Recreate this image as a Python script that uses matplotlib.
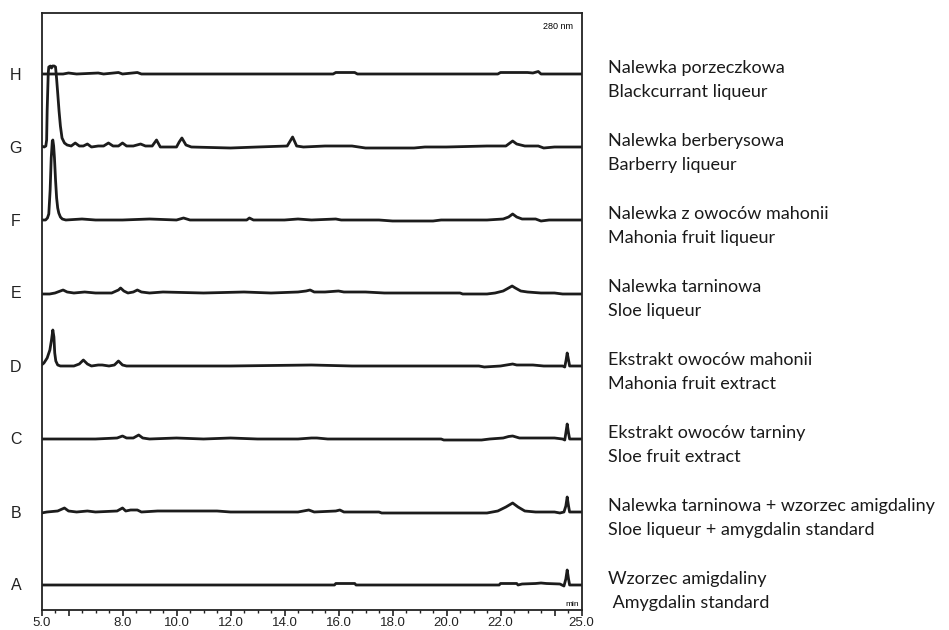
import numpy as np
import matplotlib.pyplot as plt
from matplotlib.ticker import FixedLocator, MultipleLocator

# chromatogram traces: (retention time [min], signal [a.u.])
trace_H = [(5.0, 0), (5.8, 0), (6.0, 1), (6.3, 0), (7.1, 1), (7.3, 0), (7.85, 1.5), (8.0, 0),
           (8.55, 1.5), (8.7, 0), (15.8, 0), (15.9, 1.5), (16.6, 1.5), (16.7, 0), (21.9, 0),
           (22.0, 1.5), (23.0, 1.5), (23.2, 1), (23.4, 2.5), (23.5, 0), (25.0, 0)]
trace_G = [(5.0, 1), (5.1, 0), (5.16, 1), (5.19, 7), (5.21, 37), (5.25, 74), (5.27, 80),
           (5.33, 81), (5.37, 79), (5.41, 81), (5.47, 81), (5.52, 80), (5.56, 68), (5.60, 54),
           (5.65, 36), (5.70, 21), (5.76, 9), (5.85, 4), (5.95, 2), (6.1, 1), (6.25, 4),
           (6.4, 1), (6.55, 1), (6.7, 3), (6.85, 0), (7.1, 1), (7.3, 1), (7.48, 4), (7.65, 1),
           (7.85, 1), (8.0, 4), (8.15, 1), (8.4, 1), (8.67, 3), (8.85, 1), (9.1, 1), (9.26, 7),
           (9.4, 0), (10.0, 0), (10.1, 5), (10.2, 9), (10.35, 2), (10.55, 0), (12.0, -1),
           (13.0, 0), (14.1, 1), (14.3, 10), (14.45, 1), (14.7, 0), (15.5, 1), (16.5, 1),
           (17.0, -1), (18.8, -1), (19.2, 0), (20.0, 0), (21.5, 1), (22.2, 1), (22.45, 6),
           (22.6, 3), (22.9, 1), (23.4, 1), (23.6, -1), (24.0, 0), (25.0, 0)]
trace_F = [(5.0, 0), (5.15, 0), (5.22, 2), (5.27, 6), (5.32, 30), (5.36, 62), (5.40, 79),
           (5.42, 80), (5.45, 74), (5.48, 62), (5.52, 40), (5.56, 22), (5.60, 12), (5.64, 7),
           (5.70, 3), (5.77, 1), (5.9, 0), (6.5, 1), (7.0, 0), (8.0, 0), (9.0, 1), (10.0, 0),
           (10.26, 2), (10.5, 0), (12.6, 0), (12.7, 2), (12.85, 0), (14.0, 0), (14.5, 1),
           (15.0, 0), (15.9, 1), (16.1, 0), (17.5, 0), (18.0, -1), (19.5, -1), (19.8, 0),
           (21.5, 0), (22.1, 1), (22.3, 3), (22.45, 6), (22.6, 3), (22.8, 1), (23.3, 1),
           (23.5, -1), (23.8, 0), (25.0, 0)]
trace_E = [(5.0, -1), (5.3, -1), (5.5, 0), (5.7, 2), (5.8, 3), (5.95, 1), (6.2, 0), (6.6, 1),
           (7.0, 0), (7.6, 0), (7.85, 3), (7.93, 5), (8.05, 2), (8.2, 0), (8.4, 1), (8.55, 3),
           (8.7, 1), (9.0, 0), (9.5, 1), (11.0, 0), (12.5, 1), (13.5, 0), (14.5, 1), (14.8, 2),
           (14.95, 3), (15.1, 1), (15.5, 1), (16.0, 2), (16.2, 1), (17.0, 1), (17.7, 0),
           (20.5, 0), (20.6, -1), (21.5, -1), (21.8, 0), (22.1, 2), (22.3, 5), (22.43, 7),
           (22.55, 5), (22.75, 2), (23.0, 1), (23.5, 0), (24.0, 0), (24.3, -1), (25.0, -1)]
trace_D = [(5.0, 1), (5.09, 3), (5.21, 8), (5.31, 16), (5.37, 26), (5.42, 36), (5.46, 29),
           (5.49, 13), (5.53, 5), (5.6, 1), (5.7, 0), (6.2, 0), (6.4, 2), (6.55, 6), (6.7, 2),
           (6.85, 0), (7.1, 1), (7.25, 1), (7.5, 0), (7.7, 1), (7.85, 5), (8.0, 1), (8.15, 0),
           (12.0, 0), (15.0, 1), (16.5, 0), (21.2, 0), (21.4, -1), (22.0, 0), (22.45, 2),
           (22.6, 1), (23.2, 1), (23.6, 0), (24.3, 0), (24.38, -1), (24.43, 6), (24.47, 13),
           (24.52, 6), (24.56, 0), (25.0, 0)]
trace_C = [(5.0, 0), (7.0, 0), (7.8, 1), (8.0, 3), (8.15, 1), (8.4, 1), (8.6, 4), (8.75, 1),
           (9.0, 0), (10.0, 1), (11.0, 0), (12.0, 1), (13.0, 0), (14.5, 0), (15.0, 1),
           (15.2, 1), (15.6, 0), (19.8, 0), (19.9, -1), (21.3, -1), (21.6, 0), (22.1, 1),
           (22.3, 2.5), (22.45, 3), (22.7, 1), (24.0, 1), (24.3, 0), (24.38, -1), (24.42, 6),
           (24.47, 15), (24.52, 6), (24.56, 0), (25.0, 0)]
trace_B = [(5.0, -1), (5.2, 0), (5.6, 1), (5.85, 4), (6.0, 1), (6.3, 0), (6.7, 1), (7.0, 0),
           (7.8, 1), (8.0, 4), (8.12, 1), (8.3, 2), (8.55, 2), (8.7, 0), (9.3, 1), (11.5, 1),
           (12.0, 0), (14.5, 0), (14.9, 2), (15.1, 0), (15.9, 1), (16.05, 2), (16.2, 0),
           (17.5, 0), (17.6, -1), (21.5, -1), (21.9, 1), (22.2, 5), (22.45, 9), (22.65, 5),
           (22.9, 1), (23.3, 0), (24.0, 0), (24.2, -1), (24.35, 0), (24.42, 6), (24.47, 15),
           (24.52, 6), (24.56, 0), (25.0, 0)]
trace_A = [(5.0, 0), (15.85, 0), (15.9, 1.5), (16.6, 1.5), (16.65, 0), (21.95, 0), (22.0, 1.5),
           (22.6, 1.5), (22.65, 0), (22.8, 1), (23.3, 1.5), (23.5, 2), (23.7, 1.5), (24.2, 1),
           (24.35, -1), (24.42, 6), (24.47, 15), (24.52, 6), (24.56, 0), (25.0, 0)]

letters = ["A", "B", "C", "D", "E", "F", "G", "H"]
traces = [trace_A, trace_B, trace_C, trace_D, trace_E, trace_F, trace_G, trace_H]
names_pl = ["Wzorzec amigdaliny", "Nalewka tarninowa + wzorzec amigdaliny",
            "Ekstrakt owoców tarniny", "Ekstrakt owoców mahonii", "Nalewka tarninowa",
            "Nalewka z owoców mahonii", "Nalewka berberysowa", "Nalewka porzeczkowa"]
names_en = [" Amygdalin standard", "Sloe liqueur + amygdalin standard", "Sloe fruit extract",
            "Mahonia fruit extract", "Sloe liqueur", "Mahonia fruit liqueur",
            "Barberry liqueur", "Blackcurrant liqueur"]
tick_vals = [5, 6, 8, 10, 12, 14, 16, 18, 20, 22, 24, 25]
tick_text = ["5.0", "", "8.0", "10.0", "12.0", "14.0", "16.0", "18.0", "20.0", "22.0", "", "25.0"]

W, H = 949, 630
fig = plt.figure(figsize=(W / 100, H / 100), dpi=100)
ax = fig.add_axes([41.5 / W, 1 - 610 / H, 540 / W, 597 / H])

step = 73      # vertical spacing between traces
base = 25      # baseline of the lowest trace
for i, tr in enumerate(traces):
    arr = np.array(tr, dtype=float)
    ax.plot(arr[:, 0], arr[:, 1] + base + i * step, color="#1c1c1c", lw=2.0,
            solid_joinstyle="round")
    yfig = 1 - (610 - base - i * step) / H
    fig.text(16 / W, yfig - 1 / H, letters[i], ha="center", va="center", fontsize=11.5,
             family="Liberation Sans", color="#222222")
    fig.text(608 / W, yfig + 6 / H, names_pl[i], ha="left", va="center", fontsize=13,
             family="Lato", color="#1a1a1a")
    fig.text(608 / W, yfig - 18 / H, names_en[i], ha="left", va="center", fontsize=13,
             family="Lato", color="#1a1a1a")

ax.set_xlim(5, 25)
ax.set_ylim(0, 597)
ax.xaxis.set_major_locator(FixedLocator(tick_vals))
ax.set_xticklabels(tick_text, family="Liberation Sans", fontsize=9.5)
ax.xaxis.set_minor_locator(MultipleLocator(0.5))
ax.tick_params(axis="x", which="major", direction="out", length=4, width=1.2, pad=1,
               colors="#222222")
ax.tick_params(axis="x", which="minor", direction="out", length=2.5, width=1.0,
               colors="#222222")
ax.set_yticks([])
for s in ax.spines.values():
    s.set_linewidth(1.3)
    s.set_color("#222222")

ax.text(0.995, 0.004, "min", transform=ax.transAxes, ha="right", va="bottom",
        fontsize=6, family="Liberation Sans")
ax.text(0.985, 0.985, "280 nm", transform=ax.transAxes, ha="right", va="top",
        fontsize=6.5, family="Liberation Sans")

fig.savefig("out.png", dpi=100)
